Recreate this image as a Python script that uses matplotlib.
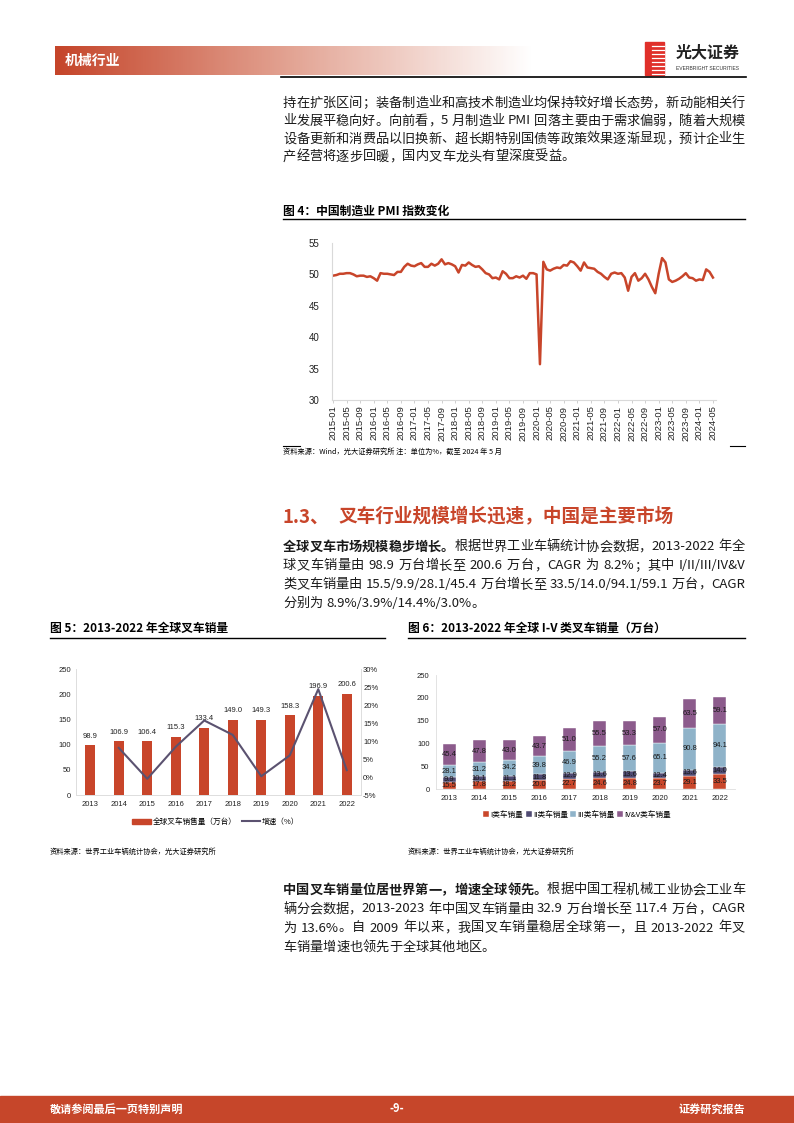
import re
import numpy as np
import pandas as pd
import matplotlib
matplotlib.use('Agg')
import matplotlib.pyplot as plt
from matplotlib.colors import LinearSegmentedColormap
from matplotlib.patches import Rectangle
from matplotlib.lines import Line2D

W, H = 794, 1123
plt.rcParams['font.family'] = ['Liberation Sans', 'Noto Sans CJK SC']
BODY = ['Noto Sans CJK SC', 'DejaVu Sans']
RED = '#c8452a'

# ---- data ----
pmi = [49.8, 49.9, 50.1, 50.1, 50.2, 50.2, 50.0, 49.7, 49.8, 49.8, 49.6, 49.7,
       49.4, 49.0, 50.2, 50.1, 50.1, 50.0, 49.9, 50.4, 50.4, 51.2, 51.7, 51.4,
       51.3, 51.6, 51.8, 51.2, 51.2, 51.7, 51.4, 51.7, 52.4, 51.6, 51.8, 51.6,
       51.3, 50.3, 51.5, 51.4, 51.9, 51.5, 51.2, 51.3, 50.8, 50.2, 50.0, 49.4,
       49.5, 49.2, 50.5, 50.1, 49.4, 49.4, 49.7, 49.5, 49.8, 49.3, 50.2, 50.2,
       50.0, 35.7, 52.0, 50.8, 50.6, 50.9, 51.1, 51.0, 51.5, 51.4, 52.1, 51.9,
       51.3, 50.6, 51.9, 51.1, 51.0, 50.9, 50.4, 50.1, 49.6, 49.2, 50.1, 50.3,
       50.1, 50.2, 49.5, 47.4, 49.6, 50.2, 49.0, 49.4, 50.1, 49.2, 48.0, 47.0,
       50.1, 52.6, 51.9, 49.2, 48.8, 49.0, 49.3, 49.7, 50.2, 49.5, 49.4, 49.0,
       49.2, 49.1, 50.8, 50.4, 49.5]
pmi_months = pd.date_range('2015-01-01', periods=len(pmi), freq='MS').strftime('%Y-%m')

years = ['2013', '2014', '2015', '2016', '2017', '2018', '2019', '2020', '2021', '2022']
sales = [98.9, 106.9, 106.4, 115.3, 133.4, 149.0, 149.3, 158.3, 196.9, 200.6]
growth = [np.nan, 8.1, -0.5, 8.4, 15.7, 11.7, 0.2, 6.0, 24.4, 1.9]

class_i = [15.5, 17.8, 18.2, 20.0, 22.7, 24.6, 24.8, 23.7, 29.1, 33.5]
class_ii = [9.9, 10.1, 11.1, 11.8, 12.9, 13.6, 13.6, 12.4, 13.6, 14.0]
class_iii = [28.1, 31.2, 34.2, 39.8, 46.9, 55.2, 57.6, 65.1, 90.8, 94.1]
class_iv_v = [45.4, 47.8, 43.0, 43.7, 51.0, 55.5, 53.3, 57.0, 63.5, 59.1]
class_names = ['I类车销量', 'II类车销量', 'III类车销量', 'IV&V类车销量']

fig = plt.figure(figsize=(W / 100, H / 100), dpi=100)
rend = fig.canvas.get_renderer()


def ax_at(l, t, r, b):
    return fig.add_axes([l / W, 1 - b / H, (r - l) / W, (b - t) / H])


def put(x, y, s, **kw):
    kw.setdefault('va', 'center')
    return fig.text(x / W, 1 - y / H, s, **kw)


def hline(x0, x1, y, lw=0.8, color='black'):
    fig.add_artist(Line2D([x0 / W, x1 / W], [1 - y / H, 1 - y / H], lw=lw, color=color,
                          transform=fig.transFigure))


TOKEN = re.compile(r'[A-Za-z0-9./%&\-]+| |.')


def text_line(y, segments, x0=283, x1=745, justify=True, size=9.5):
    toks = []
    for s, wgt in segments:
        for m in TOKEN.finditer(s):
            toks.append((m.group(), wgt))
    arts, widths = [], []
    for t, wgt in toks:
        if t == ' ':
            arts.append(None)
            widths.append(size * 100 / 72 * 0.28)
            continue
        a = put(0, y, t, fontsize=size, fontweight=wgt, family=BODY, color='#1a1a1a')
        arts.append(a)
        widths.append(a.get_window_extent(rend).width)
    gap = (x1 - x0 - sum(widths)) / (len(toks) - 1) if justify else 0
    x = x0
    for a, w in zip(arts, widths):
        if a is not None:
            a.set_x(x / W)
        x += w + gap


# ---- header ----
hax = ax_at(55, 46, 532, 75)
cmap = LinearSegmentedColormap.from_list('hdr', ['#c5452a', '#e3a595', '#ffffff'])
hax.imshow(np.linspace(0, 1, 300)[None, :], aspect='auto', cmap=cmap, extent=[0, 1, 0, 1])
hax.axis('off')
put(65, 61, '机械行业', color='white', fontsize=10, fontweight='bold', family=BODY)
hline(281, 746, 76.5, lw=1.2)
fig.add_artist(Rectangle((645 / W, 1 - 75 / H), 19 / W, 33 / H, color='#e0302a',
                         transform=fig.transFigure))
for yy in range(46, 75, 4):
    hline(652, 664, yy, lw=0.9, color='white')
put(676, 52, '光大证券', fontsize=11.5, fontweight='bold', family=BODY, color='#222222')
put(676, 69, 'EVERBRIGHT SECURITIES', fontsize=3.6, color='#333333')

# ---- paragraph 1 ----
para1 = ['持在扩张区间；装备制造业和高技术制造业均保持较好增长态势，新动能相关行',
         '业发展平稳向好。向前看，5 月制造业 PMI 回落主要由于需求偏弱，随着大规模',
         '设备更新和消费品以旧换新、超长期特别国债等政策效果逐渐显现，预计企业生',
         '产经营将逐步回暖，国内叉车龙头有望深度受益。']
for i, s in enumerate(para1):
    text_line(103 + 18 * i, [(s, 'normal')], justify=i < 3)

# ---- figure 4: PMI ----
put(283, 211, '图 4：中国制造业 PMI 指数变化', fontsize=8.5, fontweight='bold', family=BODY)
hline(283, 745, 219, lw=1.0)
ax = ax_at(332, 243, 716, 400)
x = np.arange(len(pmi))
ax.plot(x, pmi, color=RED, lw=1.8)
ax.set_xlim(-0.3, len(pmi) - 0.1)
ax.set_ylim(30, 55)
ax.set_yticks(range(30, 56, 5))
ax.set_xticks(x[::4])
ax.set_xticklabels(pmi_months[::4], rotation=90, fontsize=6.8, color='#222222')
ax.tick_params(axis='y', length=0, pad=9, labelsize=7, labelcolor='#222222')
ax.tick_params(axis='x', length=2.5, width=0.6, color='#c8c8c8', pad=1.5)
for sp in ['top', 'right']:
    ax.spines[sp].set_visible(False)
for sp in ['left', 'bottom']:
    ax.spines[sp].set_color('#d9d9d9')
    ax.spines[sp].set_linewidth(0.8)
hline(283, 300, 446, lw=0.8)
hline(730, 745, 446, lw=0.8)
put(283, 452, '资料来源：Wind，光大证券研究所 注：单位为%，截至 2024 年 5 月', fontsize=5.2,
    family=BODY)

# ---- section heading + paragraph 2 ----
put(283, 517, '1.3、', fontsize=13.4, fontweight='bold', family=BODY, color=RED)
put(339, 517, '叉车行业规模增长迅速，中国是主要市场', fontsize=13.4, fontweight='bold',
    family=BODY, color=RED)
para2 = [[('全球叉车市场规模稳步增长。', 'bold'), ('根据世界工业车辆统计协会数据，2013-2022 年全', 'normal')],
         [('球叉车销量由 98.9 万台增长至 200.6 万台，CAGR 为 8.2%；其中 I/II/III/IV&V', 'normal')],
         [('类叉车销量由 15.5/9.9/28.1/45.4 万台增长至 33.5/14.0/94.1/59.1 万台，CAGR', 'normal')],
         [('分别为 8.9%/3.9%/14.4%/3.0%。', 'normal')]]
for i, segs in enumerate(para2):
    text_line(547 + 18.7 * i, segs, justify=i < 3)

# ---- figure 5 ----
put(50, 628, '图 5：2013-2022 年全球叉车销量', fontsize=8.5, fontweight='bold', family=BODY)
hline(50, 385, 638, lw=1.0)
ax5 = ax_at(76, 669, 361, 795)
pos = np.arange(len(years))
bars = ax5.bar(pos, sales, width=0.35, color=RED)
for p, v in zip(pos, sales):
    ax5.annotate(f'{v:.1f}', (p, v), xytext=(0, 4), textcoords='offset points',
                 ha='center', va='bottom', fontsize=5.5, color='#222222')
ax5.set_xlim(-0.5, 9.5)
ax5.set_ylim(0, 250)
ax5.set_yticks(range(0, 251, 50))
ax5.set_xticks(pos)
ax5.set_xticklabels(years)
ax5.tick_params(axis='both', length=0, labelsize=5.5, labelcolor='#222222')
ax5.tick_params(axis='y', pad=3.6)
ax5.tick_params(axis='x', pad=4)
ax5b = ax5.twinx()
ax5b.plot(pos, growth, color='#5b5270', lw=1.5)
ax5b.set_ylim(-5, 30)
ax5b.set_yticks(range(-5, 31, 5))
ax5b.set_yticklabels([f'{v}%' for v in range(-5, 31, 5)])
ax5b.tick_params(axis='y', length=0, labelsize=5.5, labelcolor='#222222', pad=1.5)
for a in (ax5, ax5b):
    a.spines['top'].set_visible(False)
    for sp in ['left', 'right', 'bottom']:
        a.spines[sp].set_color('#dedede')
        a.spines[sp].set_linewidth(0.6)
h5 = [Rectangle((0, 0), 1, 1, color=RED), Line2D([], [], color='#5b5270', lw=1.5)]
fig.legend(h5, ['全球叉车销售量（万台）', '增速（%）'], loc='center',
           bbox_to_anchor=(216 / W, 1 - 822 / H), ncol=2, frameon=False,
           prop={'family': BODY, 'size': 5.5}, handlelength=2.4, handletextpad=0.3,
           columnspacing=0.6)
put(50, 852, '资料来源：世界工业车辆统计协会，光大证券研究所', fontsize=5.2, family=BODY)

# ---- figure 6 ----
put(408, 628, '图 6：2013-2022 年全球 I-V 类叉车销量（万台）', fontsize=8.5, fontweight='bold',
    family=BODY)
hline(408, 745, 638, lw=1.0)
ax6 = ax_at(435.5, 675, 735, 789)
colors6 = ['#c9472b', '#4f4a72', '#8fb3c9', '#8c5b8c']
bottom = np.zeros(len(years))
handles6 = []
for vals, col in zip([class_i, class_ii, class_iii, class_iv_v], colors6):
    vals = np.array(vals)
    b = ax6.bar(pos, vals, width=0.43, bottom=bottom, color=col, edgecolor='white', linewidth=0.3)
    handles6.append(b)
    for p, v, bt in zip(pos, vals, bottom):
        ax6.text(p, bt + v / 2, f'{v:.1f}', ha='center', va='center', fontsize=5.5,
                 color='#1a1a1a')
    bottom = bottom + vals
ax6.set_xlim(-0.45, 9.5)
ax6.set_ylim(0, 250)
ax6.set_yticks(range(0, 251, 50))
ax6.set_xticks(pos)
ax6.set_xticklabels(years)
ax6.tick_params(axis='both', length=0, labelsize=5.5, labelcolor='#222222')
ax6.tick_params(axis='y', pad=4.3)
ax6.tick_params(axis='x', pad=4.3)
for sp in ['top', 'right']:
    ax6.spines[sp].set_visible(False)
for sp in ['left', 'bottom']:
    ax6.spines[sp].set_color('#dedede')
    ax6.spines[sp].set_linewidth(0.6)
fig.legend(handles6, class_names, loc='center', bbox_to_anchor=(577 / W, 1 - 815 / H),
           ncol=4, frameon=False, prop={'family': BODY, 'size': 5.5}, handlelength=0.8,
           handleheight=0.8, handletextpad=0.15, columnspacing=0.3)
put(408, 852, '资料来源：世界工业车辆统计协会，光大证券研究所', fontsize=5.2, family=BODY)

# ---- paragraph 3 ----
para3 = [[('中国叉车销量位居世界第一，增速全球领先。', 'bold'), ('根据中国工程机械工业协会工业车', 'normal')],
         [('辆分会数据，2013-2023 年中国叉车销量由 32.9 万台增长至 117.4 万台，CAGR', 'normal')],
         [('为 13.6%。自 2009 年以来，我国叉车销量稳居全球第一，且 2013-2022 年叉', 'normal')],
         [('车销量增速也领先于全球其他地区。', 'normal')]]
for i, segs in enumerate(para3):
    text_line(890 + 19 * i, segs, justify=i < 3)

# ---- footer ----
fig.add_artist(Rectangle((0, 0), 1, 27 / H, color='#c6462a', transform=fig.transFigure, zorder=0))
put(50, 1109, '敬请参阅最后一页特别声明', fontsize=8, fontweight='bold', family=BODY, color='white')
put(397, 1109, '-9-', fontsize=8, fontweight='bold', family=BODY, color='white', ha='center')
put(745, 1109, '证券研究报告', fontsize=8, fontweight='bold', family=BODY, color='white', ha='right')

fig.savefig('out.png', dpi=100)
